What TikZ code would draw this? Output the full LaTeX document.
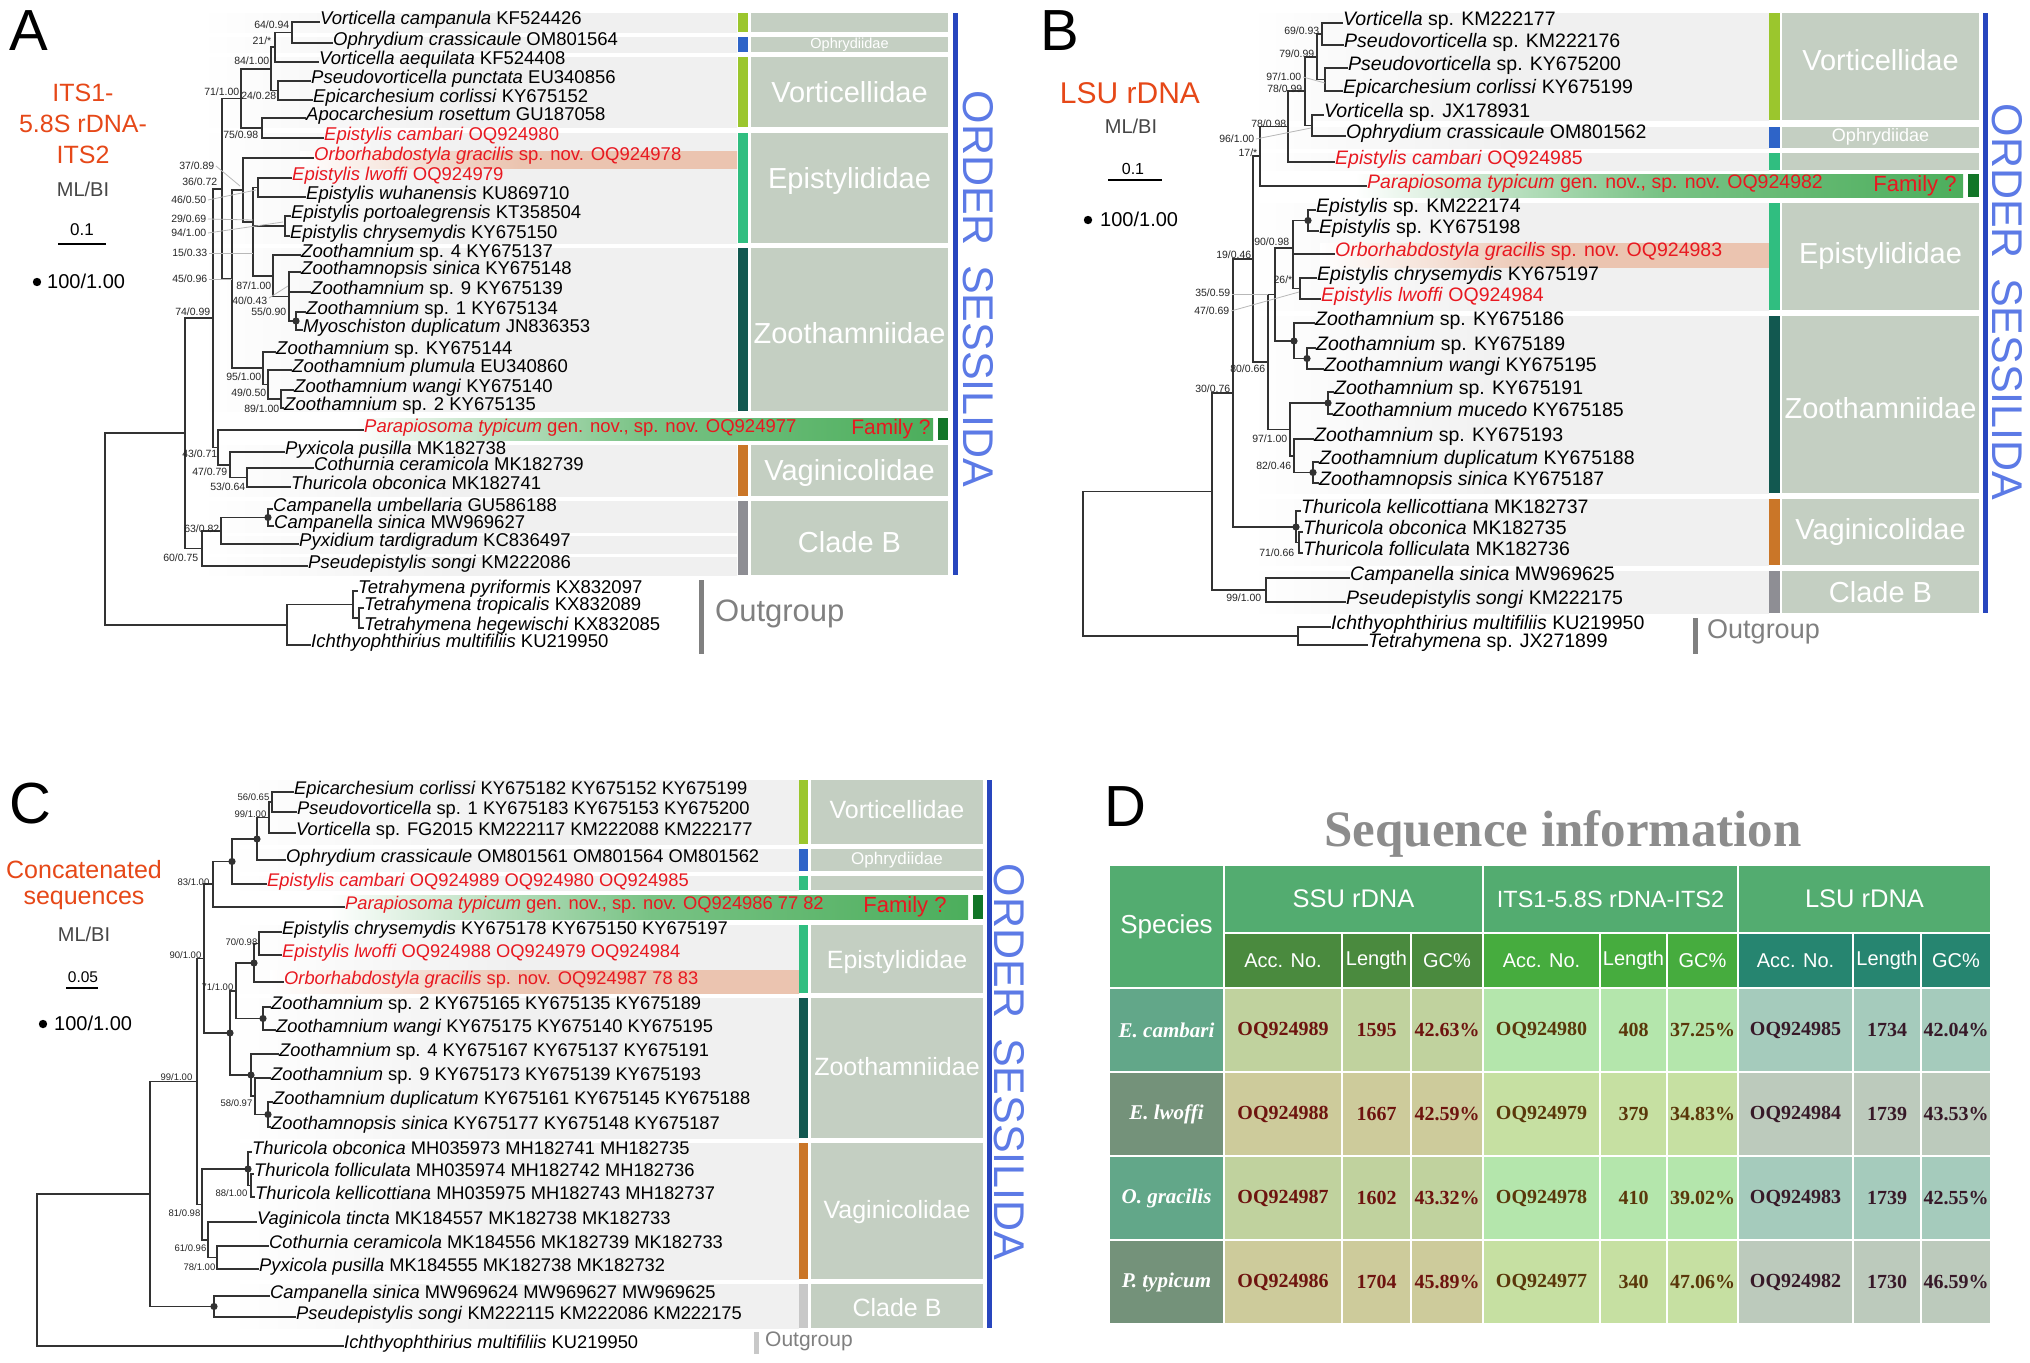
\documentclass[tikz,border=0pt]{standalone}
\usepackage{fontspec}
\setmainfont{Liberation Sans}
\newfontfamily\tnr{Liberation Serif}
\definecolor{treec}{RGB}{50,50,50}
\definecolor{redt}{RGB}{232,24,32}
\definecolor{orgt}{RGB}{230,72,24}
\definecolor{mlg}{RGB}{70,70,70}
\definecolor{bandg}{RGB}{240,240,240}
\definecolor{peach}{RGB}{235,196,176}
\definecolor{grnb}{RGB}{76,174,92}
\definecolor{dgrn}{RGB}{18,118,40}
\definecolor{vortc}{RGB}{155,198,45}
\definecolor{ophc}{RGB}{46,100,200}
\definecolor{epic}{RGB}{48,190,128}
\definecolor{zooc}{RGB}{18,88,80}
\definecolor{vagc}{RGB}{202,118,40}
\definecolor{cbc}{RGB}{142,142,148}
\definecolor{cbl}{RGB}{200,200,200}
\definecolor{famb}{RGB}{196,207,194}
\definecolor{ordl}{RGB}{40,70,190}
\definecolor{ordtc}{RGB}{92,122,230}
\definecolor{outgc}{RGB}{128,128,128}
\definecolor{titleg}{RGB}{140,140,140}
\definecolor{hdra}{RGB}{83,172,112}
\definecolor{ssuH}{RGB}{74,138,62}
\definecolor{itsH}{RGB}{70,172,62}
\definecolor{lsuH}{RGB}{38,133,112}
\definecolor{spA}{RGB}{98,167,137}
\definecolor{spB}{RGB}{116,146,122}
\definecolor{ssuA}{RGB}{192,210,158}
\definecolor{ssuB}{RGB}{205,203,155}
\definecolor{itsA}{RGB}{180,230,172}
\definecolor{itsB}{RGB}{198,224,162}
\definecolor{lsuA}{RGB}{165,203,188}
\definecolor{lsuB}{RGB}{188,202,188}
\definecolor{ssuT}{RGB}{110,20,15}
\definecolor{itsT}{RGB}{90,55,10}
\definecolor{lsuT}{RGB}{55,25,40}
\newcommand\tI[1]{\textit{#1}}
\newcounter{bsn}
\newcommand\Lf[6]{\node[#1] (#2) at (#4,#5) {#6}; \draw[br] (#3,#5) -- (#2.mid west);}
\newcommand\Vt[3]{\draw[br] (#1,#2) -- (#1,#3);}
\newcommand\Hz[3]{\draw[br] (#1,#3) -- (#2,#3);}
\newcommand\Bs[4]{\stepcounter{bsn}\node[#1] (bs\arabic{bsn}) at (#2,#3) {#4};}
\newcommand\Ld[4]{\draw[ldr] (#1,#2) -- (#3,#4);}
\newcommand\Dt[2]{\fill[treec] (#1,#2) circle (3.6);}
\newcommand\Band[4]{\shade[left color=white,right color=bandg,middle color=bandg] (#1,#3) rectangle (#2,#4);}
\newcommand\Fam[7]{\fill[#7] (#1,#5) rectangle (#2,#6); \fill[famb] (#3,#5) rectangle (#4,#6);}
\newcommand\Cell[8]{\filldraw[fill=#5,draw=white,line width=2.5pt] (#1,#2) rectangle (#3,#4); \node[#6] (#7) at ({(#1+#3)/2},{(#2+#4)/2}) {#8};}
\tikzset{
 br/.style={draw=treec,line width=1.8pt,line cap=rect},
 ldr/.style={draw=black!28,line width=0.8pt},
 tA/.style={anchor=mid west,inner sep=1pt,font=\fontsize{18.5}{20}\selectfont},
 tAr/.style={tA,text=redt},
 tB/.style={anchor=mid west,inner sep=1pt,font=\fontsize{19.5}{21}\selectfont},
 tBr/.style={tB,text=redt},
 tC/.style={anchor=mid west,inner sep=1pt,font=\fontsize{18.3}{20}\selectfont},
 tCr/.style={tC,text=redt},
 bsA/.style={anchor=east,inner sep=0.5pt,font=\fontsize{10.5}{11}\selectfont,text=black!85},
 bsC/.style={anchor=east,inner sep=0.5pt,font=\fontsize{9.5}{10}\selectfont,text=black!85},
 fam/.style={text=white,inner sep=0pt,font=\fontsize{29}{30}\selectfont},
 famC/.style={text=white,inner sep=0pt,font=\fontsize{25}{26}\selectfont},
 famq/.style={text=redt,inner sep=0pt,font=\fontsize{21}{22}\selectfont},
 letter/.style={anchor=base west,inner sep=0pt,font=\fontsize{58}{60}\selectfont},
 ttl/.style={text=orgt,inner sep=0pt,font=\fontsize{25}{27}\selectfont},
 mlbi/.style={text=mlg,inner sep=0pt,font=\fontsize{20}{22}\selectfont},
 scl/.style={inner sep=0pt,font=\fontsize{17}{18}\selectfont},
 hund/.style={anchor=west,inner sep=0pt,font=\fontsize{20}{22}\selectfont},
 ordtxt/.style={text=ordtc,inner sep=0pt,rotate=-90,font=\fontsize{43}{45}\selectfont},
 outtxt/.style={text=outgc,anchor=mid west,inner sep=0pt},
 hdr/.style={text=white,inner sep=0pt,font=\fontsize{25.5}{27}\selectfont},
 subh/.style={text=white,inner sep=0pt,font=\fontsize{20}{22}\selectfont},
 spc/.style={text=white,inner sep=0pt,font=\tnr\bfseries\itshape\fontsize{21}{23}\selectfont},
 dS/.style={text=ssuT,inner sep=0pt,font=\tnr\bfseries\fontsize{20}{22}\selectfont},
 dI/.style={text=itsT,inner sep=0pt,font=\tnr\bfseries\fontsize{20}{22}\selectfont},
 dL/.style={text=lsuT,inner sep=0pt,font=\tnr\bfseries\fontsize{20}{22}\selectfont}
}
\begin{document}
\begin{tikzpicture}[x=1pt,y=-1pt]
\useasboundingbox (0,0) rectangle (2030,1363);
\fill[white] (0,0) rectangle (2030,1363);
%%%%%%%%%%%%%%%%%%%% PANEL A %%%%%%%%%%%%%%%%%%%%
\Band{200}{737}{13}{32}\Band{200}{737}{37}{52}\Band{200}{737}{57}{127}
\Band{200}{737}{133}{243}\Band{200}{737}{248}{411}\Band{200}{737}{445}{496}
\Band{200}{737}{501}{532}\Band{200}{737}{536}{553}\Band{200}{737}{557}{575}
\shade[left color=white,right color=peach,middle color=peach] (300,151) rectangle (737,168);
\shade[left color=white,right color=grnb,middle color=grnb!75!white] (355,418) rectangle (933,440);
\fill[dgrn] (938,418) rectangle (948,440);
\Fam{737.5}{748}{751}{948}{13}{32}{vortc}
\Fam{737.5}{748}{751}{948}{37}{52}{ophc}
\Fam{737.5}{748}{751}{948}{57}{127}{vortc}
\Fam{737.5}{748}{751}{948}{133}{243}{epic}
\Fam{737.5}{748}{751}{948}{248}{411}{zooc}
\Fam{737.5}{748}{751}{948}{445}{496}{vagc}
\Fam{737.5}{748}{751}{948}{501}{575}{cbc}
\fill[ordl] (952.5,13) rectangle (957.5,575);
\node[famq] (fqA) at (891,429) {Family ?};
\node[fam] (fA1) at (849.5,92) {Vorticellidae};
\node[text=white,inner sep=0pt,font=\fontsize{14.5}{15}\selectfont] (fA2) at (849.5,44.5) {Ophrydiidae};
\node[fam] (fA3) at (849.5,181) {Epistylididae};
\node[fam] (fA4) at (849.5,333) {Zoothamniidae};
\node[fam] (fA5) at (849.5,473) {Vaginicolidae};
\node[fam] (fA6) at (849.5,542) {Clade B};
\node[ordtxt] (ordA) at (978,289) {ORDER\hspace{0.45em}SESSILIDA};
\fill[outgc] (699,580) rectangle (704,654);
\node[outtxt,font=\fontsize{31}{33}\selectfont] (ogA) at (715,619) {Outgroup};
\node[letter] (lA) at (9,50) {A};
\node[ttl] (tiA1) at (83,93) {ITS1-};
\node[ttl] (tiA2) at (83,124) {5.8S rDNA-};
\node[ttl] (tiA3) at (83,155) {ITS2};
\node[mlbi] (mlA) at (83,189) {ML/BI};
\node[scl] (scA) at (82,230) {0.1};
\draw[line width=2.5pt] (58,244) -- (106,244);
\fill (37,282) circle (4.2);
\node[hund] (huA) at (47,281) {100/1.00};
% tree A
\Lf{tA}{a1}{292}{319}{22}{\tI{Vorticella campanula} KF524426}
\Lf{tA}{a2}{292}{332}{43}{\tI{Ophrydium crassicaule} OM801564}
\Vt{292}{22}{43} \Hz{275}{292}{32.5}
\Lf{tA}{a3}{275}{318}{62}{\tI{Vorticella aequilata} KF524408}
\Vt{275}{32.5}{62} \Hz{271}{275}{47}
\Lf{tA}{a4}{278}{310}{81}{\tI{Pseudovorticella punctata} EU340856}
\Lf{tA}{a5}{278}{312}{100}{\tI{Epicarchesium corlissi} KY675152}
\Vt{278}{81}{100} \Hz{271}{278}{90.5}
\Vt{271}{47}{90.5} \Hz{241}{271}{69}
\Lf{tA}{a6}{262}{305}{118}{\tI{Apocarchesium rosettum} GU187058}
\Lf{tAr}{a7}{262}{323}{138}{\tI{Epistylis cambari} OQ924980}
\Vt{262}{118}{138} \Hz{241}{262}{128}
\Vt{241}{69}{128} \Hz{222}{241}{98.5}
\Lf{tAr}{a8}{243}{313}{158}{\tI{Orborhabdostyla gracilis} sp. nov. OQ924978}
\Lf{tAr}{a9}{258}{291}{178}{\tI{Epistylis lwoffi} OQ924979}
\Lf{tA}{a10}{258}{305}{197}{\tI{Epistylis wuhanensis} KU869710}
\Vt{258}{178}{197} \Hz{253}{258}{187.5}
\Lf{tA}{a11}{285}{290}{216}{\tI{Epistylis portoalegrensis} KT358504}
\Lf{tA}{a12}{285}{289}{236}{\tI{Epistylis chrysemydis} KY675150}
\Vt{285}{216}{236} \Hz{253}{285}{226}
\Lf{tA}{a13}{273}{300}{255}{\tI{Zoothamnium} sp. 4 KY675137}
\Lf{tA}{a14}{289}{300}{272}{\tI{Zoothamnopsis sinica} KY675148}
\Lf{tA}{a15}{289}{310}{292}{\tI{Zoothamnium} sp. 9 KY675139}
\Lf{tA}{a16}{296}{305}{312}{\tI{Zoothamnium} sp. 1 KY675134}
\Lf{tA}{a17}{296}{302}{330}{\tI{Myoschiston duplicatum} JN836353}
\Vt{296}{312}{330} \Dt{296}{321} \Hz{289}{296}{321}
\Vt{289}{272}{321} \Hz{273}{289}{296.5}
\Vt{273}{255}{296.5} \Hz{253}{273}{276}
\Vt{253}{187.5}{276} \Hz{243}{253}{222}
\Vt{243}{158}{222} \Hz{232}{243}{190}
\Lf{tA}{a18}{263}{275}{352}{\tI{Zoothamnium} sp. KY675144}
\Lf{tA}{a19}{268}{291}{370}{\tI{Zoothamnium plumula} EU340860}
\Lf{tA}{a20}{281}{293}{390}{\tI{Zoothamnium wangi} KY675140}
\Lf{tA}{a21}{281}{283}{408}{\tI{Zoothamnium} sp. 2 KY675135}
\Vt{281}{390}{408} \Hz{268}{281}{399}
\Vt{268}{370}{399} \Hz{263}{268}{384.5}
\Vt{263}{352}{384.5} \Hz{232}{263}{368}
\Vt{232}{190}{368} \Hz{222}{232}{279}
\Vt{222}{98.5}{279} \Hz{213}{222}{189}
\Lf{tAr}{a22}{218}{363}{430}{\tI{Parapiosoma typicum} gen. nov., sp. nov. OQ924977}
\Lf{tA}{a23}{230}{284}{452}{\tI{Pyxicola pusilla} MK182738}
\Lf{tA}{a24}{247}{313}{468}{\tI{Cothurnia ceramicola} MK182739}
\Lf{tA}{a25}{247}{290}{487}{\tI{Thuricola obconica} MK182741}
\Vt{247}{468}{487} \Hz{230}{247}{477.5}
\Vt{230}{452}{477.5} \Hz{218}{230}{465}
\Vt{218}{430}{465} \Hz{213}{218}{447.5}
\Vt{213}{189}{447.5} \Hz{185}{213}{318}
\Lf{tA}{a26}{268}{272}{509}{\tI{Campanella umbellaria} GU586188}
\Lf{tA}{a27}{268}{273}{526}{\tI{Campanella sinica} MW969627}
\Vt{268}{509}{526} \Dt{268}{517.5} \Hz{221}{268}{517.5}
\Lf{tA}{a28}{221}{298}{544}{\tI{Pyxidium tardigradum} KC836497}
\Vt{221}{517.5}{544} \Hz{202}{221}{531}
\Lf{tA}{a29}{202}{307}{566}{\tI{Pseudepistylis songi} KM222086}
\Vt{202}{531}{566} \Hz{185}{202}{548.5}
\Vt{185}{318}{548.5} \Hz{105}{185}{433}
\Lf{tA}{a30}{353}{357}{591}{\tI{Tetrahymena pyriformis} KX832097}
\Lf{tA}{a31}{359}{363}{608}{\tI{Tetrahymena tropicalis} KX832089}
\Lf{tA}{a32}{359}{363}{628}{\tI{Tetrahymena hegewischi} KX832085}
\Vt{359}{608}{628} \Hz{353}{359}{618}
\Vt{353}{591}{618} \Hz{287}{353}{604.5}
\Lf{tA}{a33}{287}{310}{645}{\tI{Ichthyophthirius multifiliis} KU219950}
\Vt{287}{604.5}{645} \Hz{105}{287}{625}
\Vt{105}{433}{625}
% labels A
\Bs{bsA}{290}{25}{64/0.94}
\Bs{bsA}{272}{41}{21/*}
\Bs{bsA}{270}{61}{84/1.00}
\Bs{bsA}{240}{92}{71/1.00}
\Bs{bsA}{277}{96}{24/0.28}
\Bs{bsA}{259}{135}{75/0.98}
\Bs{bsA}{215}{166}{37/0.89} \Ld{216}{166}{240}{186}
\Bs{bsA}{218}{182}{36/0.72}
\Bs{bsA}{207}{200}{46/0.50} \Ld{208}{200}{256}{190}
\Bs{bsA}{207}{219}{29/0.69} \Ld{208}{219}{253}{220}
\Bs{bsA}{207}{233}{94/1.00} \Ld{208}{233}{283}{222}
\Bs{bsA}{208}{253}{15/0.33} \Ld{209}{253}{253}{253}
\Bs{bsA}{208}{279}{45/0.96} \Ld{209}{279}{232}{279}
\Bs{bsA}{272}{286}{87/1.00}
\Bs{bsA}{268}{301}{40/0.43} \Ld{269}{298}{288}{286}
\Bs{bsA}{287}{312}{55/0.90}
\Bs{bsA}{211}{312}{74/0.99}
\Bs{bsA}{262}{377}{95/1.00}
\Bs{bsA}{267}{393}{49/0.50}
\Bs{bsA}{280}{409}{89/1.00}
\Bs{bsA}{218}{454}{43/0.71}
\Bs{bsA}{228}{472}{47/0.79}
\Bs{bsA}{246}{487}{53/0.64}
\Bs{bsA}{220}{529}{63/0.82}
\Bs{bsA}{199}{558}{60/0.75}
%%%%%%%%%%%%%%%%%%%% PANEL B %%%%%%%%%%%%%%%%%%%%
\Band{1250}{1769}{13}{120}\Band{1250}{1769}{127}{148}\Band{1250}{1769}{153}{170}
\Band{1250}{1769}{203}{310}\Band{1250}{1769}{316}{493}\Band{1250}{1769}{499}{565}
\Band{1250}{1769}{571}{613}
\shade[left color=white,right color=peach,middle color=peach] (1320,243) rectangle (1769,267);
\shade[left color=white,right color=grnb,middle color=grnb!75!white] (1355,174) rectangle (1963,197);
\fill[dgrn] (1968,174) rectangle (1979,197);
\Fam{1769}{1780}{1782}{1979}{13}{120}{vortc}
\Fam{1769}{1780}{1782}{1979}{127}{148}{ophc}
\Fam{1769}{1780}{1782}{1979}{153}{170}{epic}
\Fam{1769}{1780}{1782}{1979}{203}{310}{epic}
\Fam{1769}{1780}{1782}{1979}{316}{493}{zooc}
\Fam{1769}{1780}{1782}{1979}{499}{565}{vagc}
\Fam{1769}{1780}{1782}{1979}{571}{613}{cbc}
\fill[ordl] (1983,13) rectangle (1988,613);
\node[famq,font=\fontsize{22}{23}\selectfont] (fqB) at (1915,186) {Family ?};
\node[fam] (fB1) at (1880.5,60) {Vorticellidae};
\node[text=white,inner sep=0pt,font=\fontsize{18}{19}\selectfont] (fB2) at (1880.5,137) {Ophrydiidae};
\node[fam] (fB3) at (1880.5,256) {Epistylididae};
\node[fam] (fB4) at (1880.5,408) {Zoothamniidae};
\node[fam] (fB5) at (1880.5,532) {Vaginicolidae};
\node[fam] (fB6) at (1880.5,592) {Clade B};
\node[ordtxt] (ordB) at (2007.5,302) {ORDER\hspace{0.45em}SESSILIDA};
\fill[outgc] (1693,618) rectangle (1698,654);
\node[outtxt,font=\fontsize{27}{29}\selectfont] (ogB) at (1707,636) {Outgroup};
\node[letter] (lB) at (1040,50) {B};
\node[ttl,font=\fontsize{30}{32}\selectfont] (tiB) at (1130,93) {LSU rDNA};
\node[mlbi] (mlB) at (1131,126) {ML/BI};
\node[scl,font=\fontsize{16}{17}\selectfont] (scB) at (1133,169) {0.1};
\draw[line width=2.5pt] (1108,180) -- (1162,180);
\fill (1088,220) circle (4.2);
\node[hund] (huB) at (1100,219) {100/1.00};
% tree B
\Lf{tB}{b1}{1322}{1342}{23}{\tI{Vorticella} sp. KM222177}
\Lf{tB}{b2}{1322}{1343}{45}{\tI{Pseudovorticella} sp. KM222176}
\Vt{1322}{23}{45} \Hz{1317}{1322}{34}
\Lf{tB}{b3}{1325}{1347}{68}{\tI{Pseudovorticella} sp. KY675200}
\Lf{tB}{b4}{1325}{1342}{91}{\tI{Epicarchesium corlissi} KY675199}
\Vt{1325}{68}{91} \Hz{1317}{1325}{79.5}
\Vt{1317}{34}{79.5} \Hz{1305}{1317}{57}
\Lf{tB}{b5}{1312}{1323}{115}{\tI{Vorticella} sp. JX178931}
\Lf{tB}{b6}{1312}{1345}{136}{\tI{Ophrydium crassicaule} OM801562}
\Vt{1312}{115}{136} \Hz{1305}{1312}{125.5}
\Vt{1305}{57}{125.5} \Hz{1288}{1305}{91}
\Lf{tBr}{b7}{1288}{1334}{162}{\tI{Epistylis cambari} OQ924985}
\Vt{1288}{91}{162} \Hz{1260}{1288}{126.5}
\Lf{tBr}{b8}{1260}{1366}{186}{\tI{Parapiosoma typicum} gen. nov., sp. nov. OQ924982}
\Vt{1260}{126.5}{186} \Hz{1253}{1260}{156}
\Lf{tB}{b9}{1308}{1315}{210}{\tI{Epistylis} sp. KM222174}
\Lf{tB}{b10}{1308}{1318}{231}{\tI{Epistylis} sp. KY675198}
\Vt{1308}{210}{231} \Dt{1308}{220.5} \Hz{1293}{1308}{220.5}
\Lf{tBr}{b11}{1293}{1334}{254}{\tI{Orborhabdostyla gracilis} sp. nov. OQ924983}
\Lf{tB}{b12}{1300}{1316}{278}{\tI{Epistylis chrysemydis} KY675197}
\Lf{tBr}{b13}{1300}{1320}{299}{\tI{Epistylis lwoffi} OQ924984}
\Vt{1300}{278}{299} \Hz{1293}{1300}{288.5}
\Vt{1293}{220.5}{288.5} \Hz{1275}{1293}{248}
\Lf{tB}{b14}{1294}{1314}{323}{\tI{Zoothamnium} sp. KY675186}
\Lf{tB}{b15}{1307}{1315}{348}{\tI{Zoothamnium} sp. KY675189}
\Lf{tB}{b16}{1307}{1323}{369}{\tI{Zoothamnium wangi} KY675195}
\Vt{1307}{348}{369} \Dt{1307}{358.5} \Hz{1294}{1307}{358.5}
\Vt{1294}{323}{358.5} \Dt{1294}{341} \Hz{1275}{1294}{341}
\Vt{1275}{248}{341} \Hz{1268}{1275}{294.5}
\Lf{tB}{b17}{1328}{1333}{392}{\tI{Zoothamnium} sp. KY675191}
\Lf{tB}{b18}{1328}{1332}{414}{\tI{Zoothamnium mucedo} KY675185}
\Vt{1328}{392}{414} \Dt{1328}{403} \Hz{1290}{1328}{403}
\Lf{tB}{b19}{1294}{1313}{439}{\tI{Zoothamnium} sp. KY675193}
\Lf{tB}{b20}{1313}{1318}{462}{\tI{Zoothamnium duplicatum} KY675188}
\Lf{tB}{b21}{1313}{1318}{483}{\tI{Zoothamnopsis sinica} KY675187}
\Vt{1313}{462}{483} \Dt{1313}{472.5} \Hz{1294}{1313}{472.5}
\Vt{1294}{439}{472.5} \Hz{1290}{1294}{456}
\Vt{1290}{403}{456} \Hz{1268}{1290}{429.5}
\Vt{1268}{294.5}{429.5} \Hz{1253}{1268}{362}
\Vt{1253}{156}{362} \Hz{1233}{1253}{259}
\Lf{tB}{b22}{1296}{1300}{511}{\tI{Thuricola kellicottiana} MK182737}
\Lf{tB}{b23}{1299}{1302}{532}{\tI{Thuricola obconica} MK182735}
\Lf{tB}{b24}{1299}{1302}{553}{\tI{Thuricola folliculata} MK182736}
\Vt{1299}{532}{553} \Hz{1296}{1299}{542.5}
\Vt{1296}{511}{542.5} \Dt{1296}{527} \Hz{1233}{1296}{527}
\Vt{1233}{259}{527} \Hz{1212}{1233}{393}
\Lf{tB}{b25}{1266}{1349}{578}{\tI{Campanella sinica} MW969625}
\Lf{tB}{b26}{1266}{1345}{602}{\tI{Pseudepistylis songi} KM222175}
\Vt{1266}{578}{602} \Hz{1212}{1266}{590}
\Vt{1212}{393}{590} \Hz{1083}{1212}{491.5}
\Lf{tB}{b27}{1298}{1330}{627}{\tI{Ichthyophthirius multifiliis} KU219950}
\Lf{tB}{b28}{1298}{1367}{645}{\tI{Tetrahymena} sp. JX271899}
\Vt{1298}{627}{645} \Hz{1083}{1298}{636}
\Vt{1083}{491.5}{636}
% labels B
\Bs{bsA}{1320}{31}{69/0.93}
\Bs{bsA}{1315}{54}{79/0.99}
\Bs{bsA}{1302}{77}{97/1.00} \Ld{1303}{77}{1325}{83}
\Bs{bsA}{1303}{89}{78/0.99}
\Bs{bsA}{1287}{124}{78/0.98}
\Bs{bsA}{1255}{139}{96/1.00} \Ld{1256}{139}{1311}{128}
\Bs{bsA}{1258}{153}{17/*}
\Bs{bsA}{1290}{242}{90/0.98}
\Bs{bsA}{1252}{255}{19/0.46}
\Bs{bsA}{1293}{280}{26/*}
\Bs{bsA}{1231}{293}{35/0.59} \Ld{1232}{294}{1268}{294}
\Bs{bsA}{1230}{311}{47/0.69} \Ld{1231}{311}{1299}{292}
\Bs{bsA}{1266}{369}{80/0.66}
\Bs{bsA}{1231}{389}{30/0.76}
\Bs{bsA}{1288}{439}{97/1.00}
\Bs{bsA}{1292}{466}{82/0.46}
\Bs{bsA}{1295}{553}{71/0.66}
\Bs{bsA}{1262}{598}{99/1.00}
%%%%%%%%%%%%%%%%%%%% PANEL C %%%%%%%%%%%%%%%%%%%%
\Band{230}{799}{780}{844}\Band{230}{799}{849}{871}\Band{230}{799}{876}{890}
\Band{230}{799}{925}{993}\Band{230}{799}{998}{1138}\Band{230}{799}{1143}{1279}
\Band{230}{799}{1284}{1328}
\shade[left color=white,right color=peach,middle color=peach] (270,970) rectangle (799,993);
\shade[left color=white,right color=grnb,middle color=grnb!75!white] (330,895) rectangle (968,919);
\fill[dgrn] (973,895) rectangle (983,919);
\Fam{799}{808}{811}{983}{780}{844}{vortc}
\Fam{799}{808}{811}{983}{849}{871}{ophc}
\Fam{799}{808}{811}{983}{876}{890}{epic}
\Fam{799}{808}{811}{983}{925}{993}{epic}
\Fam{799}{808}{811}{983}{998}{1138}{zooc}
\Fam{799}{808}{811}{983}{1143}{1279}{vagc}
\Fam{799}{808}{811}{983}{1284}{1328}{cbl}
\fill[ordl] (987,780) rectangle (992,1328);
\node[famq,font=\fontsize{22}{23}\selectfont] (fqC) at (905,907) {Family ?};
\node[famC] (fC1) at (897,810) {Vorticellidae};
\node[text=white,inner sep=0pt,font=\fontsize{17}{18}\selectfont] (fC2) at (897,860) {Ophrydiidae};
\node[famC] (fC3) at (897,962) {Epistylididae};
\node[famC] (fC4) at (897,1067) {Zoothamniidae};
\node[famC] (fC5) at (897,1212) {Vaginicolidae};
\node[famC] (fC6) at (897,1308) {Clade B};
\node[ordtxt] (ordC) at (1009.5,1062) {ORDER\hspace{0.45em}SESSILIDA};
\fill[cbl] (753.5,1332) rectangle (758.5,1354);
\node[outtxt,font=\fontsize{21}{23}\selectfont] (ogC) at (765,1344) {Outgroup};
\node[letter] (lC) at (9,823) {C};
\node[ttl] (tiC1) at (84,870) {Concatenated};
\node[ttl] (tiC2) at (84,900) {sequences};
\node[mlbi] (mlC) at (84,934) {ML/BI};
\node[scl,font=\fontsize{15.5}{17}\selectfont] (scC) at (83,977) {0.05};
\draw[line width=2.5pt] (66,988) -- (98,988);
\fill (43,1024) circle (4.2);
\node[hund] (huC) at (54,1023) {100/1.00};
% tree C
\Lf{tC}{c1}{272}{293}{792}{\tI{Epicarchesium corlissi} KY675182 KY675152 KY675199}
\Lf{tC}{c2}{272}{296}{812}{\tI{Pseudovorticella} sp. 1 KY675183 KY675153 KY675200}
\Vt{272}{792}{812} \Hz{269}{272}{802}
\Lf{tC}{c3}{269}{295}{833}{\tI{Vorticella} sp. FG2015 KM222117 KM222088 KM222177}
\Vt{269}{802}{833} \Hz{257}{269}{817.5}
\Lf{tC}{c4}{257}{285}{860}{\tI{Ophrydium crassicaule} OM801561 OM801564 OM801562}
\Vt{257}{817.5}{860} \Dt{257}{839} \Hz{232}{257}{839}
\Lf{tCr}{c5}{232}{266}{884}{\tI{Epistylis cambari} OQ924989 OQ924980 OQ924985}
\Vt{232}{839}{884} \Dt{232}{861.5} \Hz{213}{232}{861.5}
\Lf{tCr}{c6}{213}{344}{907}{\tI{Parapiosoma typicum} gen. nov., sp. nov. OQ924986 77 82}
\Vt{213}{861.5}{907} \Hz{204}{213}{884}
\Lf{tC}{c7}{259}{281}{932}{\tI{Epistylis chrysemydis} KY675178 KY675150 KY675197}
\Lf{tCr}{c8}{259}{281}{955}{\tI{Epistylis lwoffi} OQ924988 OQ924979 OQ924984}
\Vt{259}{932}{955} \Hz{254}{259}{943.5}
\Lf{tCr}{c9}{254}{283}{982}{\tI{Orborhabdostyla gracilis} sp. nov. OQ924987 78 83}
\Vt{254}{943.5}{982} \Dt{254}{963} \Hz{236}{254}{963}
\Lf{tC}{c10}{263}{270}{1007}{\tI{Zoothamnium} sp. 2 KY675165 KY675135 KY675189}
\Lf{tC}{c11}{263}{275}{1030}{\tI{Zoothamnium wangi} KY675175 KY675140 KY675195}
\Vt{263}{1007}{1030} \Dt{263}{1018.5} \Hz{236}{263}{1018.5}
\Vt{236}{963}{1018.5} \Hz{230}{236}{990.75}
\Lf{tC}{c12}{251}{278}{1054}{\tI{Zoothamnium} sp. 4 KY675167 KY675137 KY675191}
\Lf{tC}{c13}{255}{270}{1078}{\tI{Zoothamnium} sp. 9 KY675173 KY675139 KY675193}
\Lf{tC}{c14}{268}{272}{1102}{\tI{Zoothamnium duplicatum} KY675161 KY675145 KY675188}
\Lf{tC}{c15}{268}{270}{1127}{\tI{Zoothamnopsis sinica} KY675177 KY675148 KY675187}
\Vt{268}{1102}{1127} \Dt{268}{1114.5} \Hz{255}{268}{1114.5}
\Vt{255}{1078}{1114.5} \Hz{251}{255}{1096}
\Vt{251}{1054}{1096} \Dt{251}{1075} \Hz{230}{251}{1075}
\Vt{230}{990.75}{1075} \Dt{230}{1033} \Hz{204}{230}{1033}
\Vt{204}{884}{1033} \Hz{197}{204}{958.5}
\Lf{tC}{c16}{248}{251}{1152}{\tI{Thuricola obconica} MH035973 MH182741 MH182735}
\Lf{tC}{c17}{251}{253}{1174}{\tI{Thuricola folliculata} MH035974 MH182742 MH182736}
\Lf{tC}{c18}{251}{254}{1197}{\tI{Thuricola kellicottiana} MH035975 MH182743 MH182737}
\Vt{251}{1174}{1197} \Hz{248}{251}{1185.5}
\Vt{248}{1152}{1185.5} \Dt{248}{1169} \Hz{202}{248}{1169}
\Lf{tC}{c19}{208}{256}{1222}{\tI{Vaginicola tincta} MK184557 MK182738 MK182733}
\Lf{tC}{c20}{217}{268}{1246}{\tI{Cothurnia ceramicola} MK184556 MK182739 MK182733}
\Lf{tC}{c21}{217}{258}{1269}{\tI{Pyxicola pusilla} MK184555 MK182738 MK182732}
\Vt{217}{1246}{1269} \Hz{208}{217}{1257.5}
\Vt{208}{1222}{1257.5} \Hz{202}{208}{1240}
\Vt{202}{1169}{1240} \Hz{197}{202}{1204.5}
\Vt{197}{958.5}{1204.5} \Hz{150}{197}{1081.5}
\Lf{tC}{c22}{214}{269}{1296}{\tI{Campanella sinica} MW969624 MW969627 MW969625}
\Lf{tC}{c23}{214}{295}{1317}{\tI{Pseudepistylis songi} KM222115 KM222086 KM222175}
\Vt{214}{1296}{1317} \Dt{214}{1306.5} \Hz{150}{214}{1306.5}
\Vt{150}{1081.5}{1306.5} \Hz{37}{150}{1194}
\Lf{tC}{c24}{37}{343}{1346}{\tI{Ichthyophthirius multifiliis} KU219950}
\Vt{37}{1194}{1346}
% labels C
\Bs{bsC}{270}{797}{56/0.65}
\Bs{bsC}{267}{814}{99/1.00}
\Bs{bsC}{210}{882}{83/1.00}
\Bs{bsC}{202}{955}{90/1.00}
\Bs{bsC}{258}{942}{70/0.98}
\Bs{bsC}{234}{987}{71/1.00}
\Bs{bsC}{193}{1077}{99/1.00}
\Bs{bsC}{253}{1103}{58/0.97}
\Bs{bsC}{248}{1193}{88/1.00}
\Bs{bsC}{201}{1213}{81/0.98}
\Bs{bsC}{207}{1248}{61/0.96}
\Bs{bsC}{216}{1267}{78/1.00}
%%%%%%%%%%%%%%%%%%%% PANEL D %%%%%%%%%%%%%%%%%%%%
\node[letter] (lD) at (1104,826) {D};
\node[anchor=base,inner sep=0pt,text=titleg,font=\tnr\bfseries\fontsize{51}{55}\selectfont] (title) at (1563,846) {Sequence information};
\Cell{1109}{865}{1224}{988}{hdra}{hdr,font=\fontsize{26}{28}\selectfont}{hSp}{Species}
\Cell{1224}{865}{1483}{933}{hdra}{hdr}{hSSU}{SSU rDNA}
\Cell{1483}{865}{1738}{933}{hdra}{hdr,font=\fontsize{23.5}{25}\selectfont}{hITS}{ITS1-5.8S rDNA-ITS2}
\Cell{1738}{865}{1991}{933}{hdra}{hdr}{hLSU}{LSU rDNA}
\Cell{1224}{933}{1342}{988}{ssuH}{subh}{sA1}{Acc. No.}
\Cell{1342}{933}{1411}{988}{ssuH}{subh}{sL1}{Length}
\Cell{1411}{933}{1483}{988}{ssuH}{subh}{sG1}{GC\%}
\Cell{1483}{933}{1600}{988}{itsH}{subh}{sA2}{Acc. No.}
\Cell{1600}{933}{1667}{988}{itsH}{subh}{sL2}{Length}
\Cell{1667}{933}{1738}{988}{itsH}{subh}{sG2}{GC\%}
\Cell{1738}{933}{1853}{988}{lsuH}{subh}{sA3}{Acc. No.}
\Cell{1853}{933}{1921}{988}{lsuH}{subh}{sL3}{Length}
\Cell{1921}{933}{1991}{988}{lsuH}{subh}{sG3}{GC\%}
% row 1
\Cell{1109}{988}{1224}{1072}{spA}{spc}{r1s}{E. cambari}
\Cell{1224}{988}{1342}{1072}{ssuA}{dS}{r1a}{OQ924989}
\Cell{1342}{988}{1411}{1072}{ssuA}{dS}{r1b}{1595}
\Cell{1411}{988}{1483}{1072}{ssuA}{dS}{r1c}{42.63\%}
\Cell{1483}{988}{1600}{1072}{itsA}{dI}{r1d}{OQ924980}
\Cell{1600}{988}{1667}{1072}{itsA}{dI}{r1e}{408}
\Cell{1667}{988}{1738}{1072}{itsA}{dI}{r1f}{37.25\%}
\Cell{1738}{988}{1853}{1072}{lsuA}{dL}{r1g}{OQ924985}
\Cell{1853}{988}{1921}{1072}{lsuA}{dL}{r1h}{1734}
\Cell{1921}{988}{1991}{1072}{lsuA}{dL}{r1i}{42.04\%}
% row 2
\Cell{1109}{1072}{1224}{1156}{spB}{spc}{r2s}{E. lwoffi}
\Cell{1224}{1072}{1342}{1156}{ssuB}{dS}{r2a}{OQ924988}
\Cell{1342}{1072}{1411}{1156}{ssuB}{dS}{r2b}{1667}
\Cell{1411}{1072}{1483}{1156}{ssuB}{dS}{r2c}{42.59\%}
\Cell{1483}{1072}{1600}{1156}{itsB}{dI}{r2d}{OQ924979}
\Cell{1600}{1072}{1667}{1156}{itsB}{dI}{r2e}{379}
\Cell{1667}{1072}{1738}{1156}{itsB}{dI}{r2f}{34.83\%}
\Cell{1738}{1072}{1853}{1156}{lsuB}{dL}{r2g}{OQ924984}
\Cell{1853}{1072}{1921}{1156}{lsuB}{dL}{r2h}{1739}
\Cell{1921}{1072}{1991}{1156}{lsuB}{dL}{r2i}{43.53\%}
% row 3
\Cell{1109}{1156}{1224}{1240}{spA}{spc}{r3s}{O. gracilis}
\Cell{1224}{1156}{1342}{1240}{ssuA}{dS}{r3a}{OQ924987}
\Cell{1342}{1156}{1411}{1240}{ssuA}{dS}{r3b}{1602}
\Cell{1411}{1156}{1483}{1240}{ssuA}{dS}{r3c}{43.32\%}
\Cell{1483}{1156}{1600}{1240}{itsA}{dI}{r3d}{OQ924978}
\Cell{1600}{1156}{1667}{1240}{itsA}{dI}{r3e}{410}
\Cell{1667}{1156}{1738}{1240}{itsA}{dI}{r3f}{39.02\%}
\Cell{1738}{1156}{1853}{1240}{lsuA}{dL}{r3g}{OQ924983}
\Cell{1853}{1156}{1921}{1240}{lsuA}{dL}{r3h}{1739}
\Cell{1921}{1156}{1991}{1240}{lsuA}{dL}{r3i}{42.55\%}
% row 4
\Cell{1109}{1240}{1224}{1324}{spB}{spc}{r4s}{P. typicum}
\Cell{1224}{1240}{1342}{1324}{ssuB}{dS}{r4a}{OQ924986}
\Cell{1342}{1240}{1411}{1324}{ssuB}{dS}{r4b}{1704}
\Cell{1411}{1240}{1483}{1324}{ssuB}{dS}{r4c}{45.89\%}
\Cell{1483}{1240}{1600}{1324}{itsB}{dI}{r4d}{OQ924977}
\Cell{1600}{1240}{1667}{1324}{itsB}{dI}{r4e}{340}
\Cell{1667}{1240}{1738}{1324}{itsB}{dI}{r4f}{47.06\%}
\Cell{1738}{1240}{1853}{1324}{lsuB}{dL}{r4g}{OQ924982}
\Cell{1853}{1240}{1921}{1324}{lsuB}{dL}{r4h}{1730}
\Cell{1921}{1240}{1991}{1324}{lsuB}{dL}{r4i}{46.59\%}
\end{tikzpicture}
\end{document}
